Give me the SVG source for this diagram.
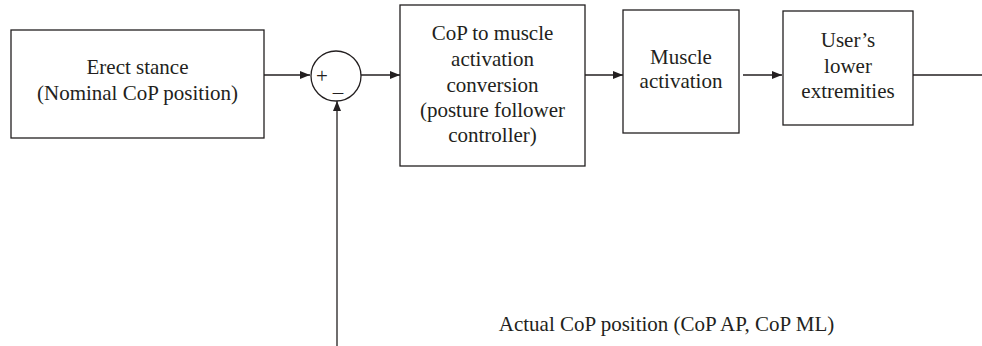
<svg xmlns="http://www.w3.org/2000/svg" width="982" height="346" viewBox="0 0 982 346" font-family="'Liberation Serif', 'Times New Roman', serif" font-size="21">
<style>
.box{fill:#fff;stroke:#231f20;stroke-width:1.3}
.ln{fill:none;stroke:#231f20;stroke-width:1.3}
.t{font-family:'Liberation Serif','Times New Roman',serif;font-size:21px;fill:#231f20;text-anchor:middle}
</style>
<defs>
<marker id="ah" viewBox="0 0 10 10" refX="10" refY="5" markerWidth="10" markerHeight="10" markerUnits="userSpaceOnUse" orient="auto">
<path d="M0,1 L10,5 L0,9 Z" fill="#231f20"/>
</marker>
</defs>
<rect width="982" height="346" fill="#fff"/>
<g id="connectors">
<line class="ln" x1="264" y1="75" x2="310" y2="75" marker-end="url(#ah)"/>
<line class="ln" x1="361" y1="75" x2="400" y2="75" marker-end="url(#ah)"/>
<line class="ln" x1="585" y1="75" x2="623" y2="75" marker-end="url(#ah)"/>
<line class="ln" x1="743" y1="75" x2="782" y2="75" marker-end="url(#ah)"/>
<line class="ln" x1="913" y1="75" x2="982" y2="75"/>
<line class="ln" x1="337" y1="346" x2="337" y2="101" marker-end="url(#ah)"/>
</g>
<g id="erect">
<rect class="box" x="11" y="30" width="253" height="108"/>
<text class="t" x="137.5" y="74">Erect stance</text>
<text class="t" x="137.5" y="100">(Nominal CoP position)</text>
</g>
<g id="sum">
<circle class="ln" cx="336" cy="76" r="25"/>
<text class="t" x="322" y="83">+</text>
<text class="t" x="338" y="99">–</text>
</g>
<g id="controller">
<rect class="box" x="400" y="5" width="185" height="161"/>
<text class="t" x="492.5" y="40">CoP to muscle</text>
<text class="t" x="492.5" y="66">activation</text>
<text class="t" x="492.5" y="92">conversion</text>
<text class="t" x="492.5" y="117">(posture follower</text>
<text class="t" x="492.5" y="142">controller)</text>
</g>
<g id="muscle">
<rect class="box" x="623" y="10" width="116" height="123"/>
<text class="t" x="681" y="64">Muscle</text>
<text class="t" x="681" y="88">activation</text>
</g>
<g id="lower">
<rect class="box" x="783" y="11" width="130" height="114"/>
<text class="t" x="848" y="47">User’s</text>
<text class="t" x="848" y="73">lower</text>
<text class="t" x="848" y="98">extremities</text>
</g>
<g id="label">
<text class="t" x="666.5" y="331">Actual CoP position (CoP AP, CoP ML)</text>
</g>
</svg>
